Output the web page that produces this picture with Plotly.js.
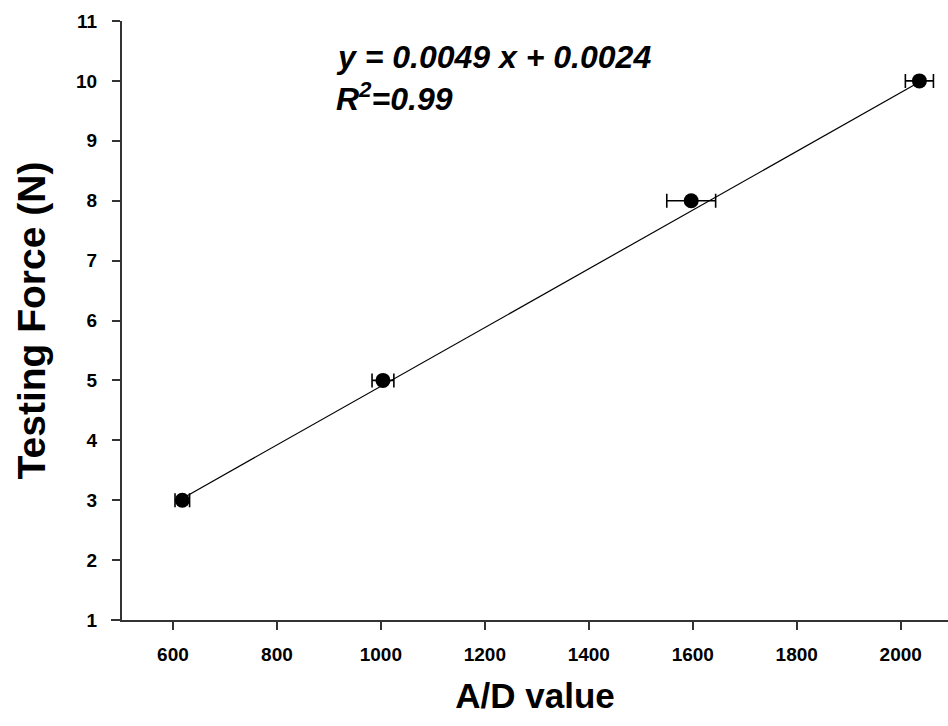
<!DOCTYPE html>
<html>
<head>
<meta charset="utf-8">
<script src="https://cdn.plot.ly/plotly-3.0.1.min.js"></script>
<style>html,body{margin:0;padding:0;background:#fff;}#chart{width:948px;height:726px;}</style>
</head>
<body>
<div id="chart"></div>
<script>
// Data
const adValues = [618, 1004, 1597, 2036];
const forceValues = [3, 5, 8, 10];
const adErrors = [14, 21, 47, 27];
const fitX = [618, 2036];
const fitY = [3.03, 9.98];
const xTicks = [600, 800, 1000, 1200, 1400, 1600, 1800, 2000];
const yTicks = [1, 2, 3, 4, 5, 6, 7, 8, 9, 10, 11];
const equationText = 'y = 0.0049 x + 0.0024';
const r2Text = 'R<sup>2</sup>=0.99';

const FONT = 'Liberation Sans, Arial, sans-serif';

const traces = [
  {
    x: fitX, y: fitY, type: 'scatter', mode: 'lines',
    line: {color: '#000', width: 1.2}, hoverinfo: 'skip', showlegend: false
  },
  {
    x: adValues, y: forceValues, type: 'scatter', mode: 'markers',
    marker: {color: '#000', size: 15},
    error_x: {type: 'data', array: adErrors, visible: true, color: '#000', thickness: 1.6, width: 7},
    showlegend: false
  }
];

const layout = {
  width: 948, height: 726,
  margin: {l: 122, r: 0, t: 21, b: 106},
  paper_bgcolor: '#fff', plot_bgcolor: '#fff',
  font: {family: FONT, color: '#000'},
  xaxis: {
    range: [502, 2091],
    tickvals: xTicks, ticktext: xTicks.map(String),
    showgrid: false, zeroline: false,
    showline: true, linecolor: '#333', linewidth: 2,
    ticks: 'outside', ticklen: 8, tickwidth: 2, tickcolor: '#333',
    tickfont: {family: FONT, size: 19, weight: 'bold', color: '#000'},
    ticklabelstandoff: 8,
    title: {text: '<b>A/D value</b>', font: {family: FONT, size: 35, color: '#000'}, standoff: 20}
  },
  yaxis: {
    range: [1, 11],
    tickvals: yTicks, ticktext: yTicks.map(String),
    showgrid: false, zeroline: false,
    showline: true, linecolor: '#333', linewidth: 2,
    ticks: 'outside', ticklen: 8, tickwidth: 2, tickcolor: '#333',
    tickfont: {family: FONT, size: 19, weight: 'bold', color: '#000'},
    ticklabelstandoff: 11,
    title: {text: '<b>Testing Force (N)</b>', font: {family: FONT, size: 39, color: '#000'}, standoff: 18}
  },
  shapes: [
    {type: 'line', xref: 'paper', yref: 'paper', x0: -11/826, x1: 0, y0: 0, y1: 0,
     line: {color: '#333', width: 2}}
  ],
  annotations: [
    {xref: 'paper', yref: 'paper', x: (334-122)/826, y: (620-77)/599.3, xanchor: 'left', yanchor: 'bottom',
     text: '<b><i>' + equationText + '</i></b>', showarrow: false,
     font: {family: FONT, size: 32, color: '#000'}},
    {xref: 'paper', yref: 'paper', x: (334-122)/826, y: (620-119)/599.3, xanchor: 'left', yanchor: 'bottom',
     text: '<b><i>' + r2Text + '</i></b>', showarrow: false,
     font: {family: FONT, size: 32, color: '#000'}}
  ]
};

Plotly.newPlot('chart', traces, layout, {displayModeBar: false, staticPlot: true});
</script>
</body>
</html>
